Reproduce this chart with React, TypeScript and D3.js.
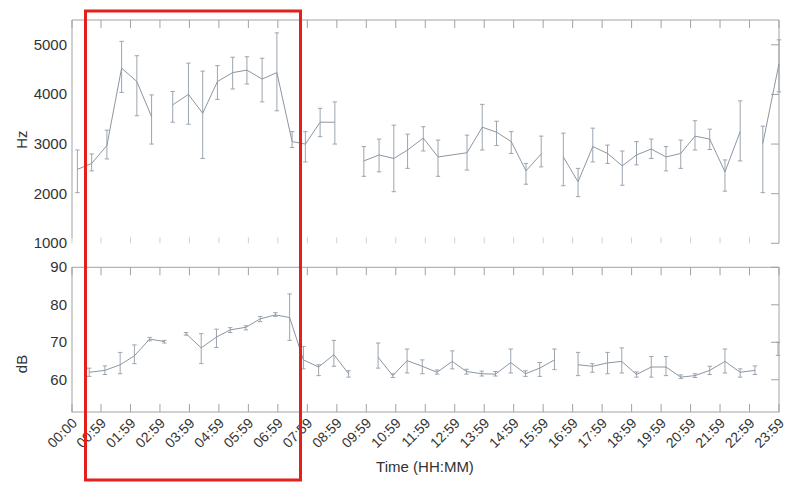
import React from "react";
import * as d3 from "d3";

// Hourly tick labels along the shared time axis
const tickLabels = [
  "00:00", "00:59", "01:59", "02:59", "03:59", "04:59", "05:59", "06:59",
  "07:59", "08:59", "09:59", "10:59", "11:59", "12:59", "13:59", "14:59",
  "15:59", "16:59", "17:59", "18:59", "19:59", "20:59", "21:59", "22:59", "23:59",
];

// Frequency panel (Hz): sample times, mean, lower and upper error bounds.
// A null mean breaks the line (no recording in that slot).
const hzTimes = [
  "00:11", "00:40", "01:11", "01:41", "02:12", "02:42", "03:05", "03:25", "03:57", "04:26",
  "04:56", "05:27", "05:56", "06:27", "06:57", "07:28", "07:55", "08:25", "08:55", "09:25",
  "09:54", "10:25", "10:55", "11:23", "11:55", "12:25", "13:24", "13:55", "14:24", "14:54",
  "15:24", "15:55", "16:18", "16:40", "17:10", "17:40", "18:10", "18:40", "19:09", "19:39",
  "20:09", "20:39", "21:08", "21:38", "22:09", "22:40", "23:03", "23:26", "23:59",
];
const hzMean = [
  2490, 2610, 2970, 4530, 4260, 3550, null, 3790, 4000, 3620,
  4260, 4440, 4490, 4310, 4440, 3050, 3000, 3440, 3440, null,
  2660, 2780, 2710, 2880, 3120, 2740, 2825, 3340, 3240, 3050,
  2460, 2800, null, 2740, 2240, 2950, 2810, 2560, 2780, 2900,
  2740, 2810, 3160, 3100, 2440, 3250, null, 3010, 4620,
];
const hzLow = [
  2020, 2460, 2700, 4040, 3570, 3000, null, 3440, 3400, 2710,
  3900, 4110, 4210, 3850, 3670, 2930, 2640, 3150, 3000, null,
  2350, 2440, 2040, 2510, 2860, 2350, 2475, 2880, 2970, 2810,
  2190, 2540, null, 2160, 1940, 2640, 2610, 2170, 2580, 2710,
  2460, 2510, 2880, 2890, 2050, 2660, null, 2020, 4050,
];
const hzHigh = [
  2880, 2800, 3280, 5070, 4780, 3990, null, 4060, 4630, 4470,
  4580, 4750, 4760, 4730, 5240, 3250, 3250, 3720, 3850, null,
  2950, 3100, 3380, 3200, 3350, 3080, 3180, 3800, 3460, 3250,
  2610, 3160, null, 3220, 2510, 3320, 2980, 2860, 3050, 3100,
  2950, 3080, 3470, 3300, 2680, 3870, null, 3360, 5100,
];

// Level panel (dB)
const dbTimes = [
  "00:35", "01:07", "01:38", "02:07", "02:38", "03:08", "03:30", "03:52", "04:23", "04:54",
  "05:22", "05:54", "06:23", "06:54", "07:23", "07:51", "08:22", "08:53", "09:23", "09:53",
  "10:23", "10:53", "11:22", "11:53", "12:23", "12:54", "13:23", "13:54", "14:22", "14:53",
  "15:23", "15:52", "16:22", "16:45", "17:10", "17:39", "18:10", "18:39", "19:09", "19:39",
  "20:09", "20:39", "21:08", "21:38", "22:09", "22:40", "23:10", "23:35", "23:57",
];
const dbMean = [
  62.0, 62.5, 64.0, 66.4, 70.85, 70.2, null, 72.3, 68.5, 71.4,
  73.3, 74.0, 76.25, 77.3, 76.6, 65.3, 63.4, 66.7, 61.6, null,
  66.0, 61.1, 65.1, 63.6, 62.0, 64.9, 62.2, 61.6, 61.5, 64.6,
  61.6, 63.1, 65.3, null, 64.0, 63.6, 64.5, 64.9, 61.4, 63.4,
  63.4, 60.7, 61.1, 62.5, 64.9, 62.0, 62.5, null, 68.0,
];
const dbLow = [
  60.9, 61.4, 61.6, 64.3, 70.4, 69.8, null, 71.9, 64.3, 68.6,
  72.6, 73.3, 75.5, 76.9, 70.5, 62.9, 61.1, 63.6, 60.7, null,
  63.1, 60.6, 61.8, 61.6, 61.5, 62.9, 61.5, 61.0, 61.0, 61.8,
  60.9, 60.9, 62.7, null, 61.1, 62.0, 61.6, 61.8, 60.7, 60.7,
  61.1, 60.3, 60.6, 61.4, 61.8, 60.7, 61.4, null, 66.5,
];
const dbHigh = [
  63.1, 63.7, 67.3, 69.3, 71.3, 70.5, null, 72.6, 72.3, 73.5,
  73.9, 74.4, 76.9, 77.9, 82.9, 68.9, 64.0, 70.5, 62.4, null,
  69.8, 61.6, 68.2, 65.3, 62.6, 67.7, 62.8, 62.3, 62.2, 68.2,
  62.4, 64.6, 68.2, null, 67.3, 64.3, 67.3, 68.5, 62.1, 66.2,
  66.2, 61.3, 61.6, 63.6, 68.2, 62.9, 63.7, null, 70.0,
];

const hzTicks = [1000, 2000, 3000, 4000, 5000];
const dbTicks = [60, 70, 80, 90];

const toMinutes = (s: string) => {
  const [h, m] = s.split(":").map(Number);
  return h * 60 + m;
};

const FONT = "'Liberation Sans', Arial, Helvetica, sans-serif";
const AXIS = "#a2a2a2";
const TEXT = "#333333";
const LINE = "#8c96a3";
const BAR = "#9ca5ae";

const left = 72;
const right = 779;
const hzTop = 20;
const hzBottom = 243.3;
const dbTop = 267.3;
const dbBottom = 412;

type Row = { t: number; m: number | null; lo: number | null; hi: number | null };

function rows(times: string[], mean: (number | null)[], lo: (number | null)[], hi: (number | null)[]): Row[] {
  return times.map((s, i) => ({ t: toMinutes(s), m: mean[i], lo: lo[i], hi: hi[i] }));
}

function Series({ data, x, y }: { data: Row[]; x: d3.ScaleLinear<number, number>; y: d3.ScaleLinear<number, number> }) {
  const line = d3
    .line<Row>()
    .defined((d) => d.m !== null)
    .x((d) => x(d.t))
    .y((d) => y(d.m as number));
  const cap = 2.2;
  return (
    <g>
      {data
        .filter((d) => d.m !== null)
        .map((d, i) => {
          const cx = x(d.t);
          const y1 = y(d.hi as number);
          const y2 = y(d.lo as number);
          return (
            <g key={i} stroke={BAR} strokeWidth={1}>
              <line x1={cx} x2={cx} y1={y1} y2={y2} />
              <line x1={cx - cap} x2={cx + cap} y1={y1} y2={y1} />
              <line x1={cx - cap} x2={cx + cap} y1={y2} y2={y2} />
            </g>
          );
        })}
      <path d={line(data) || ""} fill="none" stroke={LINE} strokeWidth={1} />
    </g>
  );
}

export default function App() {
  const x = d3.scaleLinear().domain([0, toMinutes("23:59")]).range([left, right]);
  const yHz = d3.scaleLinear().domain([1000, 5500]).range([hzBottom, hzTop]);
  const yDb = d3.scaleLinear().domain([51.4, 90]).range([dbBottom, dbTop]);

  const hzData = rows(hzTimes, hzMean, hzLow, hzHigh);
  const dbData = rows(dbTimes, dbMean, dbLow, dbHigh);
  const tickX = tickLabels.map((s) => x(toMinutes(s)));
  const tl = 8;

  return (
    <svg
      width={789}
      height={482}
      style={{ position: "absolute", left: 0, top: 0, background: "#fff" }}
      fontFamily={FONT}
    >
      <rect width={789} height={482} fill="#fff" />

      {/* Frequency panel frame (open at the bottom) */}
      <g stroke={AXIS} strokeWidth={1} fill="none">
        <line x1={left} x2={right} y1={hzTop} y2={hzTop} />
        <line x1={left} x2={left} y1={hzTop} y2={hzBottom - 5} />
        <line x1={right} x2={right} y1={hzTop} y2={hzBottom} />
        {tickX.map((tx, i) => (
          <g key={i}>
            <line x1={tx} x2={tx} y1={hzTop} y2={hzTop + tl} />
            <line x1={tx} x2={tx} y1={hzBottom - 6} y2={hzBottom} stroke="#cfcfcf" />
          </g>
        ))}
        {hzTicks.map((v) => (
          <line key={v} x1={right - tl} x2={right} y1={yHz(v)} y2={yHz(v)} />
        ))}
      </g>
      <g fill={TEXT} fontSize={15} textAnchor="end">
        {hzTicks.map((v) => (
          <text key={v} x={67} y={yHz(v) + 5}>
            {v}
          </text>
        ))}
      </g>
      <text transform={`translate(27,${(hzTop + hzBottom) / 2 + 8}) rotate(-90)`} textAnchor="middle" fontSize={15} fill={TEXT}>
        Hz
      </text>

      {/* Level panel frame */}
      <g stroke={AXIS} strokeWidth={1} fill="none">
        <rect x={left} y={dbTop} width={right - left} height={dbBottom - dbTop} />
        {tickX.map((tx, i) => (
          <g key={i}>
            <line x1={tx} x2={tx} y1={dbTop} y2={dbTop + tl} />
            <line x1={tx} x2={tx} y1={dbBottom - tl} y2={dbBottom} />
          </g>
        ))}
        {dbTicks.map((v) => (
          <line key={v} x1={right - tl} x2={right} y1={yDb(v)} y2={yDb(v)} />
        ))}
      </g>
      <g fill={TEXT} fontSize={15} textAnchor="end">
        {dbTicks.map((v) => (
          <text key={v} x={67} y={yDb(v) + 5}>
            {v}
          </text>
        ))}
      </g>
      <text transform={`translate(27,${yDb(65) + 3}) rotate(-90)`} textAnchor="middle" fontSize={15} fill={TEXT}>
        dB
      </text>

      <Series data={hzData} x={x} y={yHz} />
      <Series data={dbData} x={x} y={yDb} />

      {/* Time axis labels */}
      <g fill={TEXT} fontSize={14} textAnchor="end">
        {tickLabels.map((s, i) => (
          <text key={s} transform={`translate(${tickX[i] + 6},${dbBottom + 12}) rotate(-45)`}>
            {s}
          </text>
        ))}
      </g>
      <text x={425} y={472} textAnchor="middle" fontSize={15} fill={TEXT}>
        Time (HH:MM)
      </text>

      {/* Highlighted early-morning window */}
      <rect x={85.5} y={11} width={215} height={469} fill="none" stroke="#e3211c" strokeWidth={3} />
    </svg>
  );
}
